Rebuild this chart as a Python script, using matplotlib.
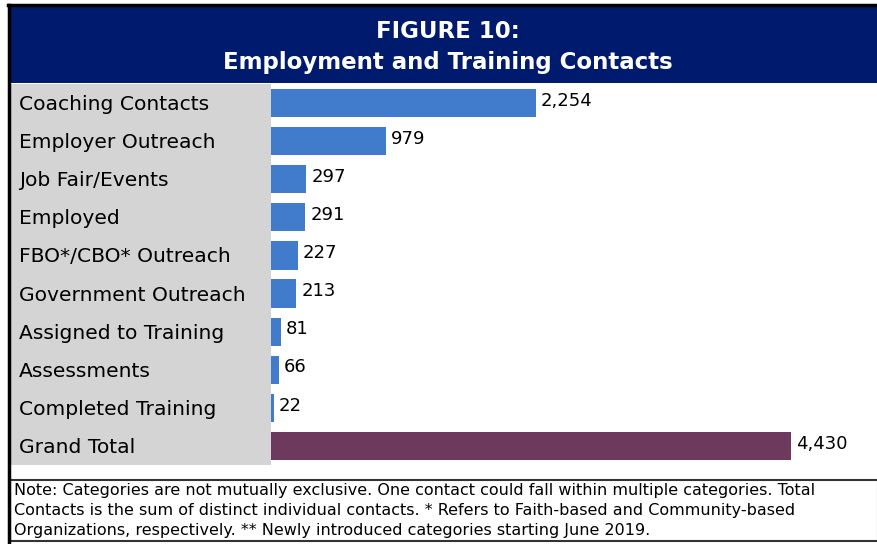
import matplotlib
matplotlib.use("Agg")
import matplotlib.pyplot as plt
from matplotlib.patches import Rectangle
from matplotlib.lines import Line2D

categories = ["Coaching Contacts", "Employer Outreach", "Job Fair/Events", "Employed",
              "FBO*/CBO* Outreach", "Government Outreach", "Assigned to Training",
              "Assessments", "Completed Training", "Grand Total"]
values = [2254, 979, 297, 291, 227, 213, 81, 66, 22, 4430]
title_lines = ["FIGURE 10:", "Employment and Training Contacts"]
note_lines = [
    "Note: Categories are not mutually exclusive. One contact could fall within multiple categories. Total",
    "Contacts is the sum of distinct individual contacts. * Refers to Faith-based and Community-based",
    "Organizations, respectively. ** Newly introduced categories starting June 2019.",
]

W, H = 878, 544
BLUE = "#417bcb"
PURPLE = "#6d395d"
NAVY = "#001a6e"
GRAY = "#d4d4d4"

fig = plt.figure(figsize=(W / 100, H / 100), dpi=100)
fig.patch.set_facecolor("white")


def fx(px):
    return px / W


def fy(py):
    return 1 - py / H


# Frame lines
fig.add_artist(Line2D([fx(8), fx(878)], [fy(5), fy(5)], color="black", lw=2.5))
fig.add_artist(Line2D([fx(9), fx(9)], [fy(5), fy(544)], color="black", lw=2.5))
# Title band
fig.add_artist(Rectangle((fx(10), fy(83)), fx(868), 76 / H, facecolor=NAVY, edgecolor="none"))
fig.text(fx(448), fy(31), title_lines[0], color="white", fontsize=16.5, fontweight="bold",
         ha="center", va="center")
fig.text(fx(448), fy(62), title_lines[1], color="white", fontsize=16.5, fontweight="bold",
         ha="center", va="center")

# Gray label panel
fig.add_artist(Rectangle((fx(11), fy(465)), fx(260), 381 / H, facecolor=GRAY, edgecolor="none"))

# Bars axes
ax = fig.add_axes([fx(271), fy(465), fx(878 - 271), 381 / H])
ax.set_facecolor("none")
n = len(categories)
ypos = list(range(n))
colors = [BLUE] * (n - 1) + [PURPLE]
ax.barh(ypos, values, height=0.74, color=colors)
ax.set_ylim(n - 0.5, -0.5)
px_per_unit = (791 - 271) / 4430
ax.set_xlim(0, (878 - 271) / px_per_unit)
for y, v in zip(ypos, values):
    ax.text(v + 45, y - 0.06, f"{v:,}", fontsize=13, va="center", ha="left", color="black")
for s in ax.spines.values():
    s.set_visible(False)
ax.set_xticks([])
ax.set_yticks([])

# Category labels
for i, c in enumerate(categories):
    ycen = 84 + (i + 0.5) * 38.1 + 1.5
    fig.text(fx(19), fy(ycen), c, fontsize=14.6, ha="left", va="center", color="black")

# Note box
fig.add_artist(Rectangle((fx(10), fy(541)), fx(868), 61 / H, facecolor="white",
                         edgecolor="#333333", lw=1.5))
for i, line in enumerate(note_lines):
    fig.text(fx(14), fy(491 + i * 19.5), line, fontsize=11.5, ha="left", va="center",
             color="black")

fig.savefig("out.png", dpi=100)
